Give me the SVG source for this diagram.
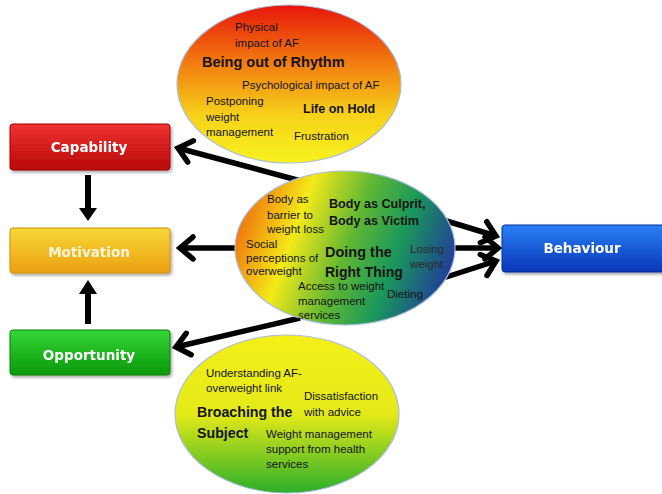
<svg xmlns="http://www.w3.org/2000/svg" width="662" height="494" viewBox="0 0 662 494">
<style>
.t{font-family:"Liberation Sans",Arial,sans-serif;fill:#141414;font-size:11.5px}
.b{font-family:"Liberation Sans",Arial,sans-serif;fill:#141414;font-weight:bold}
.bx{font-family:"DejaVu Sans","Liberation Sans",sans-serif;font-weight:bold;font-size:13.5px;fill:#fff;text-anchor:middle}
.ell{stroke:#a9bfdc;stroke-width:1.2}
.con{stroke:#000;stroke-width:5.5;fill:none}
</style>
<defs>
<linearGradient id="gTop" x1="0" y1="0" x2="0" y2="1">
<stop offset="0" stop-color="#e8150c"/>
<stop offset="0.35" stop-color="#f2780f"/>
<stop offset="0.7" stop-color="#f6d21a"/>
<stop offset="1" stop-color="#f8f21c"/>
</linearGradient>
<linearGradient id="gMid" gradientUnits="userSpaceOnUse" x1="238" y1="225" x2="445" y2="300">
<stop offset="0" stop-color="#f0760e"/>
<stop offset="0.25" stop-color="#f4ea18"/>
<stop offset="0.5" stop-color="#62b832"/>
<stop offset="0.72" stop-color="#1a985a"/>
<stop offset="1" stop-color="#21369e"/>
</linearGradient>
<linearGradient id="gBot" x1="0" y1="0" x2="0" y2="1">
<stop offset="0" stop-color="#f4ef18"/>
<stop offset="0.5" stop-color="#e4ea18"/>
<stop offset="1" stop-color="#2cae2a"/>
</linearGradient>
<linearGradient id="gRed" x1="0" y1="0" x2="0" y2="1">
<stop offset="0" stop-color="#f03232"/>
<stop offset="1" stop-color="#b80808"/>
</linearGradient>
<linearGradient id="gYel" x1="0" y1="0" x2="0" y2="1">
<stop offset="0" stop-color="#f8d838"/>
<stop offset="1" stop-color="#eba010"/>
</linearGradient>
<linearGradient id="gGrn" x1="0" y1="0" x2="0" y2="1">
<stop offset="0" stop-color="#36d636"/>
<stop offset="1" stop-color="#0a980a"/>
</linearGradient>
<linearGradient id="gBlu" x1="0" y1="0" x2="0" y2="1">
<stop offset="0" stop-color="#2a80f5"/>
<stop offset="1" stop-color="#0836b8"/>
</linearGradient>
<filter id="sh" x="-10%" y="-20%" width="125%" height="150%">
<feDropShadow dx="1.5" dy="2" stdDeviation="1.5" flood-color="#000" flood-opacity="0.35"/>
</filter>
<marker id="chev" viewBox="-18 -15 22 30" markerWidth="22" markerHeight="30" refX="0" refY="0" orient="auto" markerUnits="userSpaceOnUse">
<path d="M-13,-11 L0,0 L-13,11" fill="none" stroke="#000" stroke-width="5.5" stroke-linecap="round" stroke-linejoin="miter"/>
</marker>
</defs>

<g id="connectors">
<line class="con" x1="312" y1="184" x2="178" y2="148" marker-end="url(#chev)"/>
<line class="con" x1="250" y1="248" x2="180" y2="248" marker-end="url(#chev)"/>
<line class="con" x1="300" y1="318" x2="176" y2="347" marker-end="url(#chev)"/>
<line class="con" x1="440" y1="219" x2="496" y2="236" marker-end="url(#chev)"/>
<line class="con" x1="440" y1="248" x2="498" y2="248" marker-end="url(#chev)"/>
<line class="con" x1="440" y1="279" x2="496" y2="261" marker-end="url(#chev)"/>
<path d="M85,175 H91 V208 H97 L88,221 L79,208 H85 Z" fill="#000"/>
<path d="M85,324 H91 V294 H97 L88,280 L79,294 H85 Z" fill="#000"/>
</g>

<g id="capability" filter="url(#sh)">
<rect x="10" y="124" width="160" height="46" rx="3" fill="url(#gRed)" stroke="#a00000" stroke-width="1"/>
<text class="bx" x="89" y="152">Capability</text>
</g>
<g id="motivation" filter="url(#sh)">
<rect x="10" y="228" width="160" height="45" rx="3" fill="url(#gYel)" stroke="#d09000" stroke-width="1"/>
<text class="bx" x="89" y="257" style="fill:#fdf6dc">Motivation</text>
</g>
<g id="opportunity" filter="url(#sh)">
<rect x="10" y="330" width="160" height="45" rx="3" fill="url(#gGrn)" stroke="#078007" stroke-width="1"/>
<text class="bx" x="89" y="360">Opportunity</text>
</g>
<g id="behaviour" filter="url(#sh)">
<rect x="502" y="225" width="162" height="47" rx="3" fill="url(#gBlu)" stroke="#0030a0" stroke-width="1"/>
<text class="bx" x="582" y="253">Behaviour</text>
</g>

<g id="capability-ellipse">
<ellipse class="ell" cx="289" cy="84" rx="112" ry="79" fill="url(#gTop)"/>
<text class="t" x="235" y="31">Physical</text>
<text class="t" x="235" y="47">impact of AF</text>
<text class="b" x="202" y="67" font-size="14.5">Being out of Rhythm</text>
<text class="t" x="242" y="89">Psychological impact of AF</text>
<text class="t" x="206" y="105">Postponing</text>
<text class="t" x="206" y="121">weight</text>
<text class="t" x="206" y="136">management</text>
<text class="b" x="303" y="113" font-size="12.5">Life on Hold</text>
<text class="t" x="294" y="140">Frustration</text>
</g>

<g id="motivation-ellipse">
<ellipse class="ell" cx="345" cy="248" rx="110" ry="77" fill="url(#gMid)"/>
<text class="t" x="267" y="203" font-size="11.2">Body as</text>
<text class="t" x="267" y="219" font-size="11.2">barrier to</text>
<text class="t" x="267" y="233" font-size="11.2">weight loss</text>
<text class="b" x="329" y="208" font-size="12.6">Body as Culprit,</text>
<text class="b" x="329" y="225" font-size="12.6">Body as Victim</text>
<text class="t" x="246" y="248" font-size="11.4">Social</text>
<text class="t" x="246" y="262" font-size="11.4">perceptions of</text>
<text class="t" x="246" y="275" font-size="11.4">overweight</text>
<text class="b" x="325" y="257" font-size="14.5">Doing the</text>
<text class="b" x="325" y="277" font-size="14">Right Thing</text>
<text class="t" x="410" y="253" font-size="11.2" style="fill:#2a2a2a">Losing</text>
<text class="t" x="410" y="268" font-size="11.2" style="fill:#2a2a2a">weight</text>
<text class="t" x="298" y="290" font-size="11.1">Access to weight</text>
<text class="t" x="298" y="305" font-size="11.1">management</text>
<text class="t" x="298" y="319" font-size="11.1">services</text>
<text class="t" x="387" y="298" font-size="11.2">Dieting</text>
</g>

<g id="opportunity-ellipse">
<ellipse class="ell" cx="287" cy="414" rx="112" ry="79" fill="url(#gBot)"/>
<text class="t" x="206" y="377" font-size="12">Understanding AF-</text>
<text class="t" x="206" y="392" font-size="12">overweight link</text>
<text class="t" x="304" y="400" font-size="12">Dissatisfaction</text>
<text class="t" x="304" y="416" font-size="12">with advice</text>
<text class="b" x="197" y="417" font-size="14.2">Broaching the</text>
<text class="b" x="197" y="438" font-size="14.2">Subject</text>
<text class="t" x="266" y="438" font-size="12">Weight management</text>
<text class="t" x="266" y="453" font-size="12">support from health</text>
<text class="t" x="266" y="468" font-size="12">services</text>
</g>
</svg>
